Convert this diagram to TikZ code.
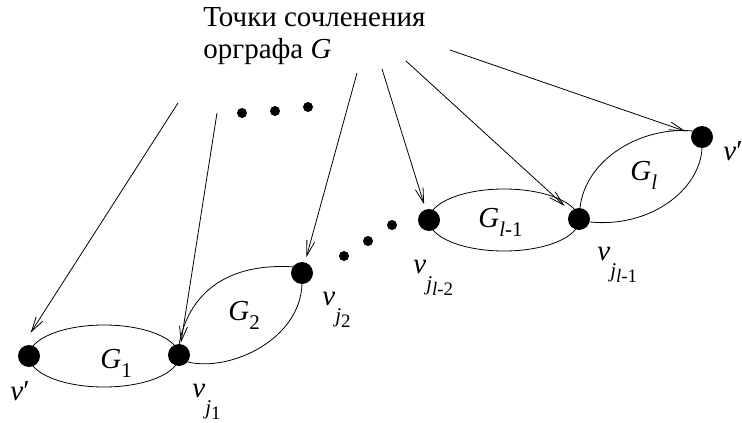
\documentclass[tikz,border=0pt]{standalone}
\usepackage{fontspec}
\setmainfont{Liberation Serif}
\usetikzlibrary{arrows.meta}
\newcommand{\bigf}{\fontsize{29}{30}\selectfont}
\newcommand{\subf}{\fontsize{21}{22}\selectfont}
\newcommand{\subsubf}{\fontsize{19}{20}\selectfont}
\newcommand{\vjlab}[1]{\textit{v}\raisebox{-17pt}{\subf\textit{j}\raisebox{-5pt}{\subsubf #1}}}
\newcommand{\glab}[1]{\textit{G}\raisebox{-9pt}{\subf #1}}
\begin{document}
\begin{tikzpicture}[x=1pt,y=-1pt,line width=0.8pt,
  bigdot/.style={circle,fill=black,inner sep=0pt,minimum size=22pt},
  smalldot/.style={circle,fill=black,inner sep=0pt,minimum size=10pt},
  lbl/.style={inner sep=0pt,anchor=base west,font=\bigf},
  pointer/.style={-{Straight Barb[length=15pt,width=8pt,line width=0.8pt]}}]
\useasboundingbox (0,0) rectangle (742,423);
% lenses
\draw (104,356) ellipse [x radius=75, y radius=31];
\draw (504,220) ellipse [x radius=75, y radius=31];
\draw (179,345) .. controls (188,295) and (225,262) .. (295,267);
\draw (188,362) .. controls (230,372) and (300,340) .. (302,284);
\draw (580,208) .. controls (585,160) and (640,126) .. (693,131);
\draw (590,222) .. controls (650,228) and (700,190) .. (702,148);
% articulation points
\node[bigdot] (vL) at (29,356) {};
\node[bigdot] (vj1) at (179,355) {};
\node[bigdot] (vj2) at (302,273) {};
\node[bigdot] (vjl2) at (429,220) {};
\node[bigdot] (vjl1) at (579,219) {};
\node[bigdot] (vR) at (702,137) {};
% ellipsis dots
\node[smalldot] (d1) at (242,113) {};
\node[smalldot] (d2) at (275,111) {};
\node[smalldot] (d3) at (308,107) {};
\node[smalldot] (d4) at (344,256) {};
\node[smalldot] (d5) at (368,241) {};
\node[smalldot] (d6) at (392,225) {};
% title
\node[lbl] (t1) at (203,27) {Точки сочленения};
\node[lbl] (t2) at (203,58) {орграфа \textit{G}};
% arrow sources
\coordinate (s1) at (178,103);
\coordinate (s2) at (217,113);
\coordinate (s3) at (357,73);
\coordinate (s4) at (382,69);
\coordinate (s5) at (406,61);
\coordinate (s6) at (450,50);
\draw[pointer,shorten >=18pt] (s1) -- (vL.north west);
\draw[pointer,shorten >=1pt] (s2) -- (vj1);
\draw[pointer,shorten >=5pt] (s3) -- (vj2);
\draw[pointer,shorten >=5pt] (s4) -- (vjl2);
\draw[pointer,shorten >=8pt] (s5) -- (vjl1);
\draw[pointer,shorten >=6pt] (s6) -- (vR);
% labels
\node[lbl] (lvL) at (10,400) {\textit{v}′};
\node[lbl] (lvj1) at (192,397) {\vjlab{1}};
\node[lbl] (lvj2) at (322,305) {\vjlab{2}};
\node[lbl] (lvjl2) at (413,273) {\vjlab{\textit{l}-2}};
\node[lbl] (lvjl1) at (597,260) {\vjlab{\textit{l}-1}};
\node[lbl] (lvR) at (723,160) {\textit{v}′};
\node[lbl] (lG1) at (100,368) {\glab{1}};
\node[lbl] (lG2) at (228,320) {\glab{2}};
\node[lbl] (lGl1) at (478,227) {\glab{\textit{l}-1}};
\node[lbl] (lGl) at (630,180) {\glab{\textit{l}}};
\end{tikzpicture}
\end{document}
